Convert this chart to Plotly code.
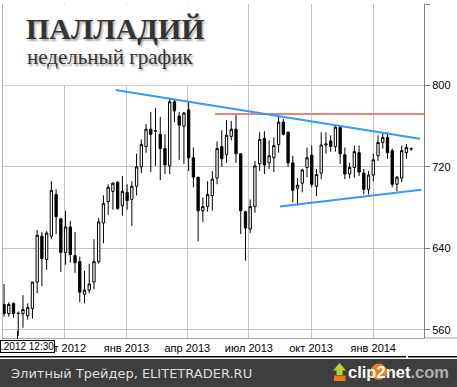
import pandas as pd
import plotly.graph_objects as go

# ---------------- data ----------------
week_dates = pd.date_range("2012-07-04", periods=87, freq="7D")

opens = [585, 576, 586, 576.5, 576, 574, 581, 607, 652, 629,
         652, 693, 669, 636, 661, 633, 627, 595, 599, 607,
         627, 665, 686, 696, 705, 682, 695, 688, 701, 720,
         740, 757, 755, 752, 738, 721, 784, 770, 760, 776,
         729, 710, 677, 681, 692, 709, 740, 732, 750, 757,
         733, 676, 659, 681, 723, 748, 724, 729, 742, 764,
         754, 724, 699, 704, 719.5, 731.5, 701, 714, 741.5, 745.5,
         740, 759, 732, 713, 719.5, 734, 714, 698, 712, 731,
         744, 749, 736, 703, 709, 734, 737.5]
highs = [605, 587, 587, 578, 594, 586, 607, 658, 656, 657,
         706, 698, 670, 677, 667, 656, 632, 618, 625, 649,
         670, 692, 703, 705, 706, 711, 703, 706, 733, 747,
         762, 774, 778, 769, 752, 788, 786, 774, 774, 784,
         739, 710, 690, 706, 716, 745, 756, 766, 765, 772,
         733, 677, 688, 726, 754, 755, 746, 749, 770, 767,
         755, 731, 709, 718, 739, 741, 718, 754, 754, 751,
         761, 759, 739, 724, 741, 741, 718, 716, 733, 751,
         754, 754, 738, 711, 741, 742.5, 739]
lows = [573, 573, 572, 554, 562, 570, 571, 596, 603, 619,
        649, 654, 617, 624, 626, 616, 587, 586, 596, 600,
        625, 645, 673, 678, 678, 672, 678, 662, 692, 714,
        734, 715, 721, 707, 713, 713, 764, 727, 723, 716,
        700, 647, 666, 676, 677, 703, 720, 724, 746, 724,
        654, 628, 655, 675, 716, 713, 718, 715, 734, 751,
        720, 685, 682, 695, 710, 700, 691.5, 708, 733, 735,
        735, 723, 708, 708.6, 709.6, 711, 693, 693, 706, 726,
        738, 728, 700, 696, 705, 728, 736]
closes = [576, 585, 576, 576, 580, 582, 607, 653, 630, 655,
          697, 671, 636, 661, 634, 626, 597, 599, 605, 627,
          666, 684, 700, 704, 679, 696, 687, 701, 720, 742,
          757, 752, 755.5, 738, 722, 784, 775, 761, 773, 729,
          710, 677, 681, 693, 708, 738, 728, 751, 757, 733,
          677, 660, 681, 721, 747, 722, 731, 741, 764, 752,
          724, 697, 702, 717, 729, 703, 712.5, 741.5, 742.5, 740,
          759, 733, 713, 719.5, 735, 715, 698, 712, 727, 744,
          749, 734, 703, 710, 736, 739, 738]

# analyst lines
upper_line_dates = ["2012-12-16", "2014-03-11"]
upper_line_prices = [795.5, 747.7]
lower_line_dates = ["2013-08-16", "2014-03-13"]
lower_line_prices = [681.2, 697.6]
resist_dates = ["2013-05-12", "2014-03-17"]
resist_prices = [771.9, 771.9]

x_tick_dates = ["2012-10-01", "2013-01-01", "2013-04-01", "2013-07-01",
                "2013-10-01", "2014-01-01"]
x_tick_text = ["окт 2012", "янв 2013", "апр 2013", "июл 2013",
               "окт 2013", "янв 2014"]
y_ticks = [560, 640, 720, 800, 880]

title_text = "ПАЛЛАДИЙ"
subtitle_text = "недельный график"
footer_text = "Элитный Трейдер, ELITETRADER.RU"
crosshair_text = ".2012 12:30"

# ---------------- layout helpers ----------------
W, H = 457, 387
ML, MR, MT, MB = 2, 33, 4, 49
PW, PH = W - ML - MR, H - MT - MB


def px(x):
    return (x - ML) / PW


def py(y):
    return (H - MB - y) / PH


fig = go.Figure()

fig.add_trace(go.Candlestick(
    x=week_dates, open=opens, high=highs, low=lows, close=closes,
    increasing=dict(line=dict(color="black", width=1), fillcolor="white"),
    decreasing=dict(line=dict(color="black", width=1), fillcolor="black"),
    hoverinfo="skip", showlegend=False,
))

fig.add_trace(go.Scatter(x=resist_dates, y=resist_prices, mode="lines",
                         line=dict(color="#e8817f", width=2),
                         hoverinfo="skip", showlegend=False))
fig.add_trace(go.Scatter(x=upper_line_dates, y=upper_line_prices, mode="lines",
                         line=dict(color="#3399ff", width=2),
                         hoverinfo="skip", showlegend=False))
fig.add_trace(go.Scatter(x=lower_line_dates, y=lower_line_prices, mode="lines",
                         line=dict(color="#3399ff", width=2),
                         hoverinfo="skip", showlegend=False))

shapes = []
# white title box
shapes.append(dict(type="rect", xref="paper", yref="paper",
                   x0=px(3.2), x1=px(231), y0=py(85.3), y1=py(4.8),
                   fillcolor="white", line=dict(width=0), layer="above"))
# left border
shapes.append(dict(type="line", xref="paper", yref="paper",
                   x0=px(2.5), x1=px(2.5), y0=0, y1=1,
                   line=dict(color="#b4b4b4", width=1), layer="above"))
# bottom line extending right
shapes.append(dict(type="line", xref="paper", yref="paper",
                   x0=px(424), x1=px(457), y0=0, y1=0,
                   line=dict(color="#a0a0a0", width=1), layer="above"))
# crosshair tick
shapes.append(dict(type="line", xref="paper", yref="paper",
                   x0=px(17.5), x1=px(17.5), y0=py(331), y1=py(339),
                   line=dict(color="black", width=1), layer="above"))
# black separator line (two segments)
shapes.append(dict(type="line", xref="paper", yref="paper",
                   x0=px(0), x1=px(406), y0=py(356.8), y1=py(356.8),
                   line=dict(color="black", width=1.5), layer="above"))
shapes.append(dict(type="line", xref="paper", yref="paper",
                   x0=px(408), x1=px(457), y0=py(356.8), y1=py(356.8),
                   line=dict(color="black", width=1.5), layer="above"))
# footer band
shapes.append(dict(type="rect", xref="paper", yref="paper",
                   x0=px(0), x1=px(457), y0=py(359), y1=py(387),
                   fillcolor="#3e3e3e", line=dict(width=0), layer="above"))
# clip2net icon: arrow + base
shapes.append(dict(type="path", xref="paper", yref="paper",
                   path="M {} {} L {} {} L {} {} L {} {} L {} {} L {} {} L {} {} Z".format(
                       px(339.5), py(363), px(346), py(370.5), px(342.5), py(370.5),
                       px(342.5), py(375), px(336.5), py(375), px(336.5), py(370.5),
                       px(333), py(370.5)),
                   fillcolor="#b8d430", line=dict(width=0), layer="above"))
shapes.append(dict(type="rect", xref="paper", yref="paper",
                   x0=px(334), x1=px(345.5), y0=py(381), y1=py(375.5),
                   fillcolor="#f07a1a", line=dict(width=0), layer="above"))
# orange circle behind "2"
shapes.append(dict(type="circle", xref="paper", yref="paper",
                   x0=px(370.5), x1=px(387), y0=py(380), y1=py(363.5),
                   fillcolor="#f07a1a", line=dict(width=0), layer="above"))

annotations = []
serif = "Liberation Serif, Times New Roman, serif"
shadow = "1.5px 2px 2px rgba(0,0,0,0.35)"
annotations.append(dict(text="<b>" + title_text + "</b>", xref="paper", yref="paper",
                        x=px(24), y=py(28), xanchor="left", yanchor="middle",
                        showarrow=False,
                        font=dict(family=serif, size=30, color="#333333", shadow=shadow)))
annotations.append(dict(text=subtitle_text, xref="paper", yref="paper",
                        x=px(25), y=py(57), xanchor="left", yanchor="middle",
                        showarrow=False,
                        font=dict(family=serif, size=21, color="#333333", shadow=shadow)))

annotations.append(dict(text=crosshair_text, xref="paper", yref="paper",
                        x=px(0), y=py(346.5), xanchor="left", yanchor="middle",
                        showarrow=False, bgcolor="white", bordercolor="black",
                        borderwidth=1, borderpad=0,
                        font=dict(family="Liberation Sans, Arial, sans-serif", size=10, color="black")))

annotations.append(dict(text=footer_text, xref="paper", yref="paper",
                        x=px(9), y=py(373), xanchor="left", yanchor="middle",
                        showarrow=False,
                        font=dict(family="DejaVu Sans, Verdana, sans-serif", size=13, color="#dcdcdc")))
annotations.append(dict(text="<b>clip<span style='color:white'>2</span>net</b><span style='color:#b0b0b0'><b>.com</b></span>",
                        xref="paper", yref="paper",
                        x=px(346), y=py(372), xanchor="left", yanchor="middle",
                        showarrow=False,
                        font=dict(family="Liberation Sans, Arial, sans-serif", size=16.5, color="white")))

fig.update_layout(
    width=W, height=H,
    margin=dict(l=ML, r=MR, t=MT, b=MB, pad=0),
    paper_bgcolor="white", plot_bgcolor="white",
    showlegend=False,
    shapes=shapes, annotations=annotations,
    font=dict(family="Liberation Sans, Arial, sans-serif", size=11, color="black"),
    xaxis=dict(
        type="date", range=["2012-07-01", "2014-03-17"],
        rangeslider=dict(visible=False),
        tickmode="array", tickvals=x_tick_dates, ticktext=x_tick_text,
        showgrid=True, gridcolor="#c4c4c4", gridwidth=1,
        showline=True, linecolor="#a0a0a0", linewidth=1,
        ticks="", tickfont=dict(size=11, color="black"),
        zeroline=False, fixedrange=True,
    ),
    yaxis=dict(
        side="right", range=[552, 880],
        tickmode="array", tickvals=y_ticks,
        showgrid=True, gridcolor="#c4c4c4", gridwidth=1,
        showline=True, linecolor="#808080", linewidth=1,
        ticks="outside", ticklen=5, tickcolor="#808080",
        tickfont=dict(size=11, color="black"),
        zeroline=False, fixedrange=True,
    ),
)

fig.write_html("out.html", config=dict(displayModeBar=False))
